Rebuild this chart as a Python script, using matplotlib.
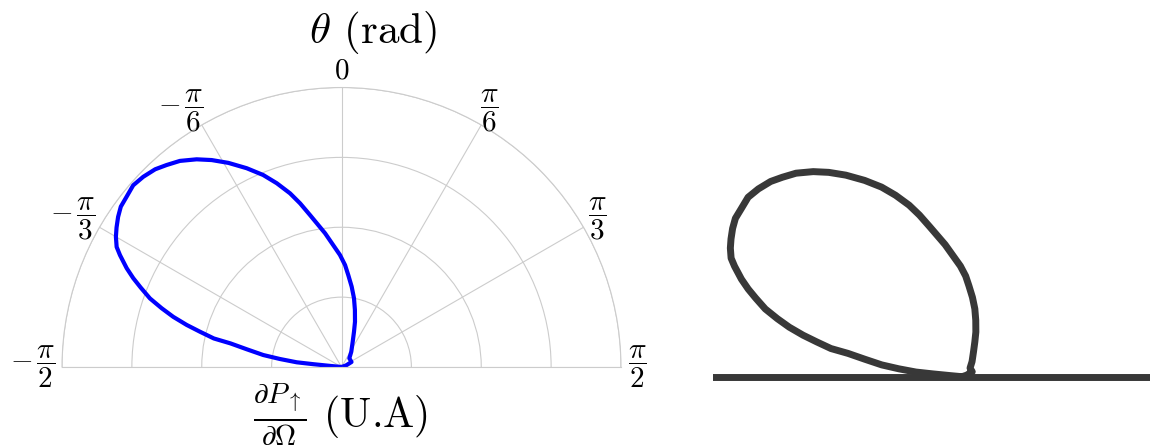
import numpy as np
import matplotlib.pyplot as plt
from matplotlib.transforms import ScaledTranslation

plt.rcParams['mathtext.fontset'] = 'cm'
plt.rcParams['font.family'] = 'cmr10'
plt.rcParams['axes.unicode_minus'] = False

# angular distribution of the emitted power (normalised), theta from the vertical
theta_deg = [-86.0, -84.5, -84.3, -84.0, -82.6, -81.3, -79.4, -78.0, -77.4, -76.0,
             -74.8, -73.4, -71.9, -70.3, -68.4, -66.9, -65.3, -63.2, -61.9, -60.0,
             -58.2, -56.1, -54.0, -51.6, -48.9, -46.2, -43.3, -40.9, -38.1, -34.9,
             -32.1, -29.0, -25.5, -22.2, -19.4, -16.5, -14.2, -11.7, -7.0,
             -0.8, 2.0, 4.2, 7.2, 10.3, 13.2, 16.6, 19.5, 23.9,
             32.6, 41.9, 63.4, 71.0, 90.0]
r_rel = [0.0, 0.041, 0.101, 0.161, 0.222, 0.283, 0.345, 0.406, 0.468, 0.522,
         0.574, 0.628, 0.677, 0.728, 0.773, 0.810, 0.846, 0.888, 0.912, 0.932,
         0.947, 0.963, 0.976, 0.981, 0.989, 0.983, 0.972, 0.956, 0.937, 0.906,
         0.874, 0.835, 0.788, 0.742, 0.697, 0.648, 0.604, 0.555, 0.482,
         0.401, 0.365, 0.330, 0.290, 0.250, 0.210, 0.169, 0.134, 0.099,
         0.065, 0.042, 0.040, 0.017, 0.0]

tick_deg = [-90, -60, -30, 0, 30, 60, 90]
tick_labels = [r'$-\,\dfrac{\pi}{2}$', r'$-\,\dfrac{\pi}{3}$', r'$-\,\dfrac{\pi}{6}$', r'$0$',
               r'$\dfrac{\pi}{6}$', r'$\dfrac{\pi}{3}$', r'$\dfrac{\pi}{2}$']
r_grid = [0.25, 0.5, 0.75, 1.0]

th = np.radians(theta_deg)
r = np.array(r_rel)

W, H = 1150, 447
fig = plt.figure(figsize=(W / 100, H / 100), dpi=100)

# half polar plot; the wedge is centred inside a square box
cx, cy, R = 341.5, 367.0, 279.5
box_top = cy - R / 2 - R
ax = fig.add_axes([(cx - R) / W, (H - box_top - 2 * R) / H, 2 * R / W, 2 * R / H],
                  projection='polar')
ax.set_theta_zero_location('N')
ax.set_theta_direction(-1)
ax.set_thetamin(-90)
ax.set_thetamax(90)
ax.set_rlim(0, 1)
ax.set_xticks(np.radians(tick_deg))
ax.set_xticklabels([])
ax.set_yticks(r_grid)
ax.set_yticklabels([])
ax.grid(True, color='#cccccc', lw=0.8)
for sp in ax.spines.values():
    sp.set_color('#cccccc')
    sp.set_linewidth(0.8)
ax.plot(th, r, color='#0000ff', lw=3, solid_capstyle='round', solid_joinstyle='round')

# angle labels: the fraction sits on the label circle, a leading minus hangs outside it
minus_shift = ScaledTranslation(-13 / 100, 0, fig.dpi_scale_trans)
for deg, lab in zip(tick_deg, tick_labels):
    tr = ax.transData + minus_shift if deg < 0 else ax.transData
    ax.text(np.radians(deg), 1.057, lab, transform=tr, fontsize=21,
            ha='center', va='center', clip_on=False)

fig.text(373 / W, 1 - 33 / H, r'$\theta$ (rad)', fontsize=31,
         ha='center', va='center')
fig.text(341 / W, 1 - 414 / H,
         r'$\frac{\partial P_{\uparrow}}{\partial \Omega}$ (U.A)',
         fontsize=30, ha='center', va='center')

# same lobe drawn flat, sitting on a horizontal line
ox, oy, sx, sy = 962.0, 376.7, 287.0, 276.0
x0, x1, y0, y1 = 713.0, 1150.0, 150.0, 400.0
ax2 = fig.add_axes([x0 / W, (H - y1) / H, (x1 - x0) / W, (y1 - y0) / H])
ax2.plot(r * np.sin(th), r * np.cos(th), color='#383838', lw=5,
         solid_capstyle='round', solid_joinstyle='round')
ax2.axhline(0, color='#383838', lw=5)
ax2.set_xlim(-(ox - x0) / sx, (x1 - ox) / sx)
ax2.set_ylim(-(y1 - oy) / sy, (oy - y0) / sy)
ax2.axis('off')

fig.savefig('out.png', dpi=100)
